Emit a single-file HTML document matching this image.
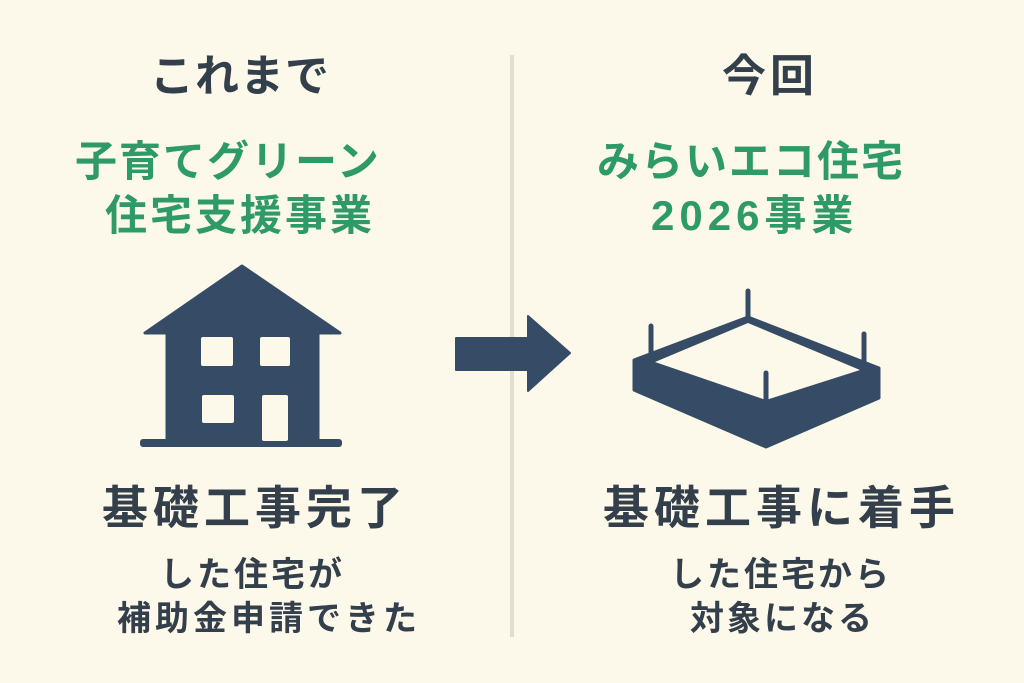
<!DOCTYPE html>
<html><head><meta charset="utf-8"><style>
html,body{margin:0;padding:0}
body{width:1024px;height:683px;background:#fdf9ea;position:relative;overflow:hidden;font-family:"Liberation Sans","Noto Sans CJK JP",sans-serif;font-weight:bold}
.t{position:absolute;white-space:nowrap;line-height:1}
.d{color:#343f4c}
.g{color:#2e9a68}
</style></head><body>
<div style="position:absolute;left:510px;top:55px;width:4px;height:582px;background:#e2ddcd"></div>

<div class="t d" style="left:150px;top:55px;font-size:44px;letter-spacing:1px">これまで</div>
<div class="t d" style="left:722px;top:55px;font-size:44px;letter-spacing:4px">今回</div>

<div class="t g" style="left:75px;top:141px;font-size:42px;letter-spacing:2px">子育てグリーン</div>
<div class="t g" style="left:105px;top:195px;font-size:42px;letter-spacing:3px">住宅支援事業</div>
<div class="t g" style="left:597px;top:141px;font-size:42px;letter-spacing:2px">みらいエコ住宅</div>
<div class="t g" style="left:651px;top:195px;font-size:42px;letter-spacing:5px">2026事業</div>

<div class="t d" style="left:102px;top:485px;font-size:46px;letter-spacing:5px">基礎工事完了</div>
<div class="t d" style="left:160px;top:558px;font-size:34px;letter-spacing:3px">した住宅が</div>
<div class="t d" style="left:117px;top:602px;font-size:34px;letter-spacing:4px">補助金申請できた</div>

<div class="t d" style="left:603px;top:485px;font-size:46px;letter-spacing:5px">基礎工事に着手</div>
<div class="t d" style="left:670px;top:558px;font-size:34px;letter-spacing:3px">した住宅から</div>
<div class="t d" style="left:690px;top:602px;font-size:34px;letter-spacing:3px">対象になる</div>

<svg width="1024" height="683" style="position:absolute;left:0;top:0" fill="#364c66" stroke-linejoin="round">
<polygon points="242,266 145,333 167,333 167,442 318,442 318,333 340,333" stroke="#364c66" stroke-width="3"/>
<rect x="140" y="439" width="202" height="8" rx="3"/>
<g fill="#fdf9ea">
<rect x="201" y="337" width="32" height="29" rx="2"/>
<rect x="260" y="337" width="30" height="29" rx="2"/>
<rect x="202" y="395" width="32" height="28" rx="2"/>
<rect x="262" y="395" width="26" height="46" rx="2"/>
</g>
<polygon points="456,338 528,338 528,316 570,353 528,391 528,370 456,370" stroke="#364c66" stroke-width="2"/>
<polygon points="634,360 748,317 879,368 879,398 766,447 634,390" stroke="#364c66" stroke-width="3"/>
<polygon points="655,362 748,323 860,370 766,400" fill="#fdf9ea"/>
<g stroke="#364c66" stroke-width="5" stroke-linecap="round">
<line x1="651" y1="326" x2="651" y2="356"/>
<line x1="748" y1="291" x2="748" y2="318"/>
<line x1="864" y1="334" x2="864" y2="362"/>
<line x1="766" y1="373" x2="766" y2="406"/>
</g>
</svg>
</body></html>
